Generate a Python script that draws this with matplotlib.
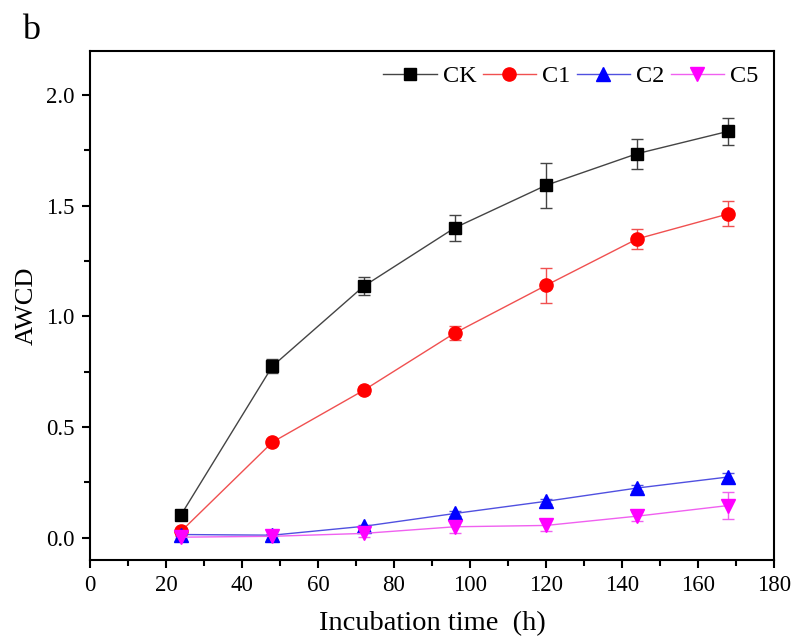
import numpy as np
import matplotlib
matplotlib.use("Agg")
import matplotlib.pyplot as plt
from matplotlib.ticker import MultipleLocator, FormatStrFormatter
from matplotlib.lines import Line2D

plt.rcParams['font.family'] = ['Liberation Serif', 'DejaVu Serif']

# incubation times (h) and AWCD means / errors per treatment
hours = [24, 48, 72, 96, 120, 144, 168]
ck = [0.105, 0.775, 1.136, 1.400, 1.592, 1.735, 1.836]
ck_err = [0.01, 0.032, 0.041, 0.060, 0.102, 0.068, 0.060]
c1 = [0.03, 0.432, 0.666, 0.925, 1.140, 1.350, 1.463]
c1_err = [0.005, 0.008, 0.015, 0.033, 0.080, 0.046, 0.056]
c2 = [0.015, 0.012, 0.052, 0.110, 0.165, 0.225, 0.275]
c2_err = [0.005, 0.005, 0.008, 0.010, 0.012, 0.015, 0.020]
c5 = [0.003, 0.007, 0.02, 0.05, 0.056, 0.098, 0.146]
c5_err = [0.005, 0.01, 0.015, 0.03, 0.025, 0.02, 0.063]

series = [
    ("CK", ck, ck_err, "black", "#444444", "s", 8.5),
    ("C1", c1, c1_err, "red", "#f05050", "o", 9.5),
    ("C2", c2, c2_err, "blue", "#5050e0", "^", 10),
    ("C5", c5, c5_err, "magenta", "#f060f0", "v", 10),
]

fig = plt.figure(figsize=(7.97, 6.43), dpi=100)
ax = fig.add_axes([0.1129, 0.1291, 0.8583, 0.7921])

handles = []
for name, y, err, mc, lc, mk, ms in series:
    ax.errorbar(hours, y, yerr=err, color=lc, ecolor=lc, elinewidth=1,
                capsize=4.5, capthick=1, lw=1.0,
                marker=mk, markersize=ms, markerfacecolor=mc,
                markeredgecolor=mc)
    handles.append(Line2D([], [], color=lc, lw=1.0, marker=mk,
                          markersize=ms, markerfacecolor=mc,
                          markeredgecolor=mc, label=name))

ax.set_xlim(0, 180)
ax.set_ylim(-0.1, 2.2)
ax.xaxis.set_major_locator(MultipleLocator(20))
ax.xaxis.set_minor_locator(MultipleLocator(10))
ax.yaxis.set_major_locator(MultipleLocator(0.5))
ax.yaxis.set_minor_locator(MultipleLocator(0.25))
ax.yaxis.set_major_formatter(FormatStrFormatter('%.1f'))

for s in ax.spines.values():
    s.set_linewidth(1.5)
ax.tick_params(which='major', direction='out', length=6, width=1.5,
               labelsize=16.5, pad=5)
ax.tick_params(which='minor', direction='out', length=4, width=1.5)

ax.set_xlabel("Incubation time  (h)", fontsize=20.5, labelpad=11)
ax.set_ylabel("AWCD", fontsize=19, labelpad=6)

ax.legend(handles=handles, loc='upper right', ncol=4, frameon=False,
          fontsize=17.5, handlelength=2.2, handletextpad=0.25,
          columnspacing=0.25, borderaxespad=0.1,
          bbox_to_anchor=(0.995, 0.995))

fig.text(0.028, 0.94, "b", fontsize=26)

fig.savefig("out.png", dpi=100)
